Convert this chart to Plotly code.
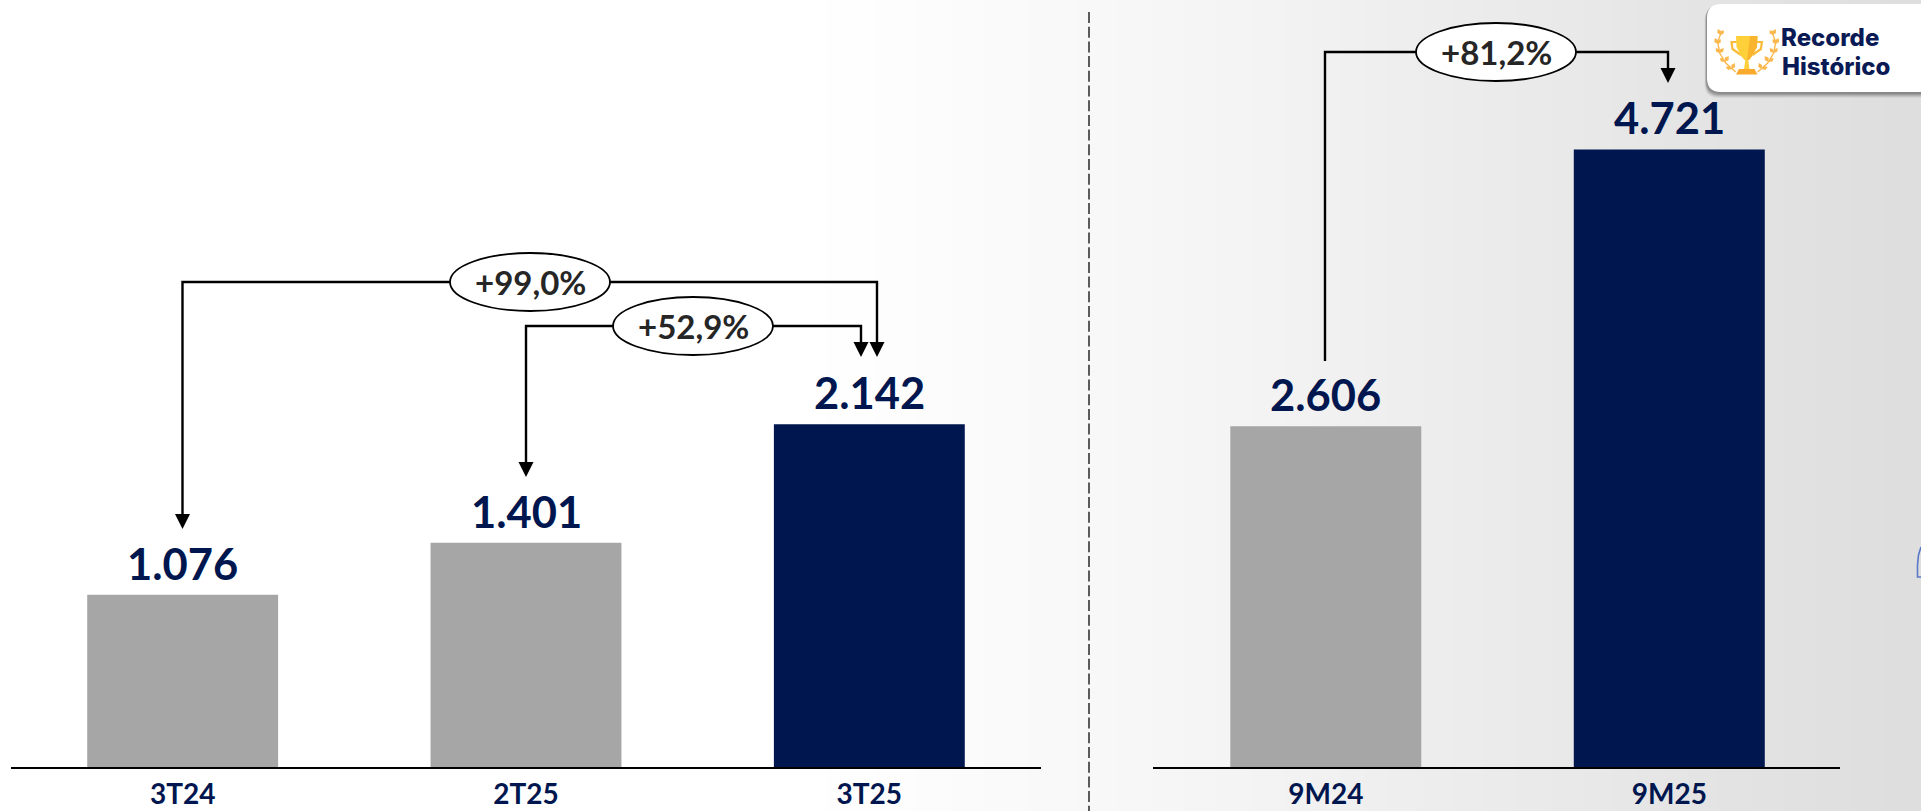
import plotly.graph_objects as go

W, H = 1921, 811
NAVY = "#00164F"
GREY = "#A6A6A6"

# Data
quarter_labels = ["3T24", "2T25", "3T25"]
quarter_values = [1076, 1401, 2142]
quarter_colors = [GREY, GREY, NAVY]
ytd_labels = ["9M24", "9M25"]
ytd_values = [2606, 4721]
ytd_colors = [GREY, NAVY]
pct_labels = ["+99,0%", "+52,9%", "+81,2%"]
badge_lines = ["Recorde", "Histórico"]

# Background gradient (x position in px, grey level)
bg_x = [0, 100, 200, 300, 400, 500, 600, 700, 800, 900, 1000, 1100, 1200, 1300, 1400, 1500, 1600, 1700, 1800, 1900]
bg_level = [255, 255, 255, 255, 255, 255, 255, 255, 255, 253, 250, 248, 245, 242, 238, 235, 232, 228, 225, 222]


def px(x):
    return x / W


def py(y):
    return 1 - y / H


def path(points, close=True):
    d = "M " + " L ".join(f"{px(x):.5f},{py(y):.5f}" for x, y in points)
    return d + (" Z" if close else "")


shapes = []


def line(points, width=2.4, color="#000000"):
    shapes.append(dict(type="path", xref="paper", yref="paper", path=path(points, False),
                       line=dict(color=color, width=width), fillcolor="rgba(0,0,0,0)"))


def poly(points, fill, width=0, color=None):
    shapes.append(dict(type="path", xref="paper", yref="paper", path=path(points),
                       fillcolor=fill, line=dict(width=width, color=color or fill)))


def arrow(x, tip):
    poly([(x - 7.5, tip - 15), (x + 7.5, tip - 15), (x, tip)], "#000000")


def ellipse(cx, cy, rx=80, ry=29):
    shapes.append(dict(type="circle", xref="paper", yref="paper",
                       x0=px(cx - rx), x1=px(cx + rx), y0=py(cy + ry), y1=py(cy - ry),
                       fillcolor="#FFFFFF", line=dict(color="#000000", width=1.8)))


def rounded(x0, y0, x1, y1, r, fill):
    d = (f"M {px(x0 + r)},{py(y0)} L {px(x1)},{py(y0)} L {px(x1)},{py(y1)} L {px(x0 + r)},{py(y1)} "
         f"Q {px(x0)},{py(y1)} {px(x0)},{py(y1 - r)} L {px(x0)},{py(y0 + r)} "
         f"Q {px(x0)},{py(y0)} {px(x0 + r)},{py(y0)} Z")
    shapes.append(dict(type="path", xref="paper", yref="paper", path=d, fillcolor=fill,
                       line=dict(width=0)))


def leaf(x, y, dx, dy, fill, w=0.32):
    mx, my = x + dx * 0.5, y + dy * 0.5
    nx, ny = -dy * w, dx * w
    poly([(x, y), (mx + nx, my + ny), (x + dx, y + dy), (mx - nx, my - ny)], fill)


# Divider
shapes.append(dict(type="line", xref="paper", yref="paper", x0=px(1089), x1=px(1089), y0=py(12), y1=0,
                   line=dict(color="#4A4A4A", width=1.8, dash="11px,3.7px")))

# Connectors
line([(182.5, 529 - 13), (182.5, 282), (877, 282), (877, 345)])
arrow(182.5, 529)
arrow(877, 357)
line([(526, 477 - 13), (526, 326), (861, 326), (861, 345)])
arrow(526, 477)
arrow(861, 357)
line([(1325, 361), (1325, 52), (1668, 52), (1668, 71)])
arrow(1668, 83)
ellipse(530, 282)
ellipse(693, 326)
ellipse(1496, 52)

# Badge card with soft shadow
for off, alpha in [(6, 0.05), (5, 0.07), (4, 0.09), (3, 0.11), (2, 0.12)]:
    rounded(1707 - off * 0.4, 4 + off * 0.4, 1925, 92 + off, 14, f"rgba(0,0,0,{alpha})")
rounded(1707, 4, 1925, 92, 14, "#FFFFFF")

# Trophy
GOLD, SHADE, ORANGE = "#FFD03A", "#F9B52E", "#FBB84E"
cx = 1746.7
line([(1737, 42), (1731.5, 42), (1732.5, 49), (1741, 55)], 2.2, "#F9BB3A")
line([(2 * cx - 1737, 42), (2 * cx - 1731.5, 42), (2 * cx - 1732.5, 49), (2 * cx - 1741, 55)], 2.2, "#F9BB3A")
poly([(1736, 36), (1757.5, 36), (1757, 47), (1752, 56), (1749, 60), (1744.5, 60), (1741, 56), (1736.5, 47)], GOLD)
poly([(1750, 36), (1757.5, 36), (1757, 47), (1752, 56), (1749, 60), (1747, 60)], SHADE)
poly([(1745.3, 60), (1748.2, 60), (1749.5, 69), (1744, 69)], GOLD)
poly([(1739, 69), (1754.5, 69), (1757.5, 74.5), (1736, 74.5)], "#F9A92B")
for side in (-1, 1):
    stem = [(cx + side * 25, 31), (cx + side * 29, 42), (cx + side * 27, 53), (cx + side * 21, 63), (cx + side * 11, 72)]
    line(stem, 1.4, ORANGE)
    for dx, y, ox, oy, ix, iy in [
        (26, 35, -3, -6, 3, -5), (29, 44, -3, -6, 3, -5), (27, 53, -4, -5, 4, -5),
        (22, 62, -5, -4, 4, -6), (15, 69, -6, -2, 3, -6),
    ]:
        leaf(cx + side * dx, y, side * -ox, oy, ORANGE)
        leaf(cx + side * dx, y, side * -ix, iy, ORANGE)

# Partial blue outline at the right edge
line([(1921, 547), (1918.5, 555), (1917.5, 565), (1917.5, 577), (1921, 577)], 1.6, "#5B78C8")

annotations = []
for text, x, y in zip(pct_labels, [530, 693, 1496], [282, 326, 52]):
    annotations.append(dict(text=f"<b>{text}</b>", x=px(x), y=py(y), xref="paper", yref="paper",
                            showarrow=False, xanchor="center", yanchor="middle",
                            font=dict(family="Lato", size=33, color="#262626")))
for text, y, x in zip(badge_lines, [37, 67], [1779, 1780]):
    annotations.append(dict(text=text, x=px(x), y=py(y), xref="paper", yref="paper",
                            showarrow=False, xanchor="left", yanchor="middle",
                            font=dict(family="Inter", size=24, weight=800, color="#0A1A55")))
for labels, values, xa, ya in [(quarter_labels, quarter_values, "x2", "y2"), (ytd_labels, ytd_values, "x3", "y3")]:
    for lab, val in zip(labels, values):
        annotations.append(dict(text="<b>" + f"{val:,}".replace(",", ".") + "</b>", x=lab, y=val, xref=xa, yref=ya,
                                showarrow=False, xanchor="center", yanchor="bottom", yshift=4,
                                font=dict(family="Lato", size=43.5, color=NAVY)))

fig = go.Figure()
fig.add_trace(go.Heatmap(x=bg_x, y=[0, 1], z=[bg_level, bg_level], xaxis="x", yaxis="y",
                         zmin=0, zmax=255, zsmooth="best", showscale=False, hoverinfo="skip",
                         colorscale=[[0, "#000000"], [1, "#FFFFFF"]]))
for labels, values, colors, xa, ya in [
    (quarter_labels, quarter_values, quarter_colors, "x2", "y2"),
    (ytd_labels, ytd_values, ytd_colors, "x3", "y3"),
]:
    fig.add_trace(go.Bar(x=labels, y=values, xaxis=xa, yaxis=ya, marker=dict(color=colors, line=dict(width=0)),
                         width=0.556, cliponaxis=False))

x_common = dict(type="category", showgrid=False, zeroline=False, showline=True, linecolor="#000000", linewidth=2,
                ticks="outside", ticklen=1, tickcolor="rgba(0,0,0,0)",
                tickfont=dict(family="Lato", size=28, color=NAVY), tickprefix="<b>", ticksuffix="</b>")
y_common = dict(visible=False, showgrid=False, zeroline=False)
BASE = 767
y_bottom = (H - BASE) / H

fig.update_layout(
    width=W, height=H, margin=dict(l=0, r=0, t=0, b=0, pad=0, autoexpand=False),
    paper_bgcolor="#FFFFFF", plot_bgcolor="rgba(0,0,0,0)", showlegend=False, separators=",.",
    xaxis=dict(domain=[0, 1], range=[0, W], visible=False),
    yaxis=dict(domain=[0, 1], range=[0, 1], visible=False),
    xaxis2=dict(domain=[px(11), px(1041)], range=[-0.5, 2.5], anchor="y2", **x_common),
    yaxis2=dict(domain=[y_bottom, 1], range=[0, BASE / 0.16], anchor="x2", **y_common),
    xaxis3=dict(domain=[px(1153), px(1840)], range=[-0.503, 1.497], anchor="y3", **x_common),
    yaxis3=dict(domain=[y_bottom, 1], range=[0, BASE / 0.1308], anchor="x3", **y_common),
    shapes=shapes, annotations=annotations,
)
fig.write_html("out.html", config=dict(displayModeBar=False),
               post_script="document.body.style.margin='0';document.body.style.overflow='hidden';")
